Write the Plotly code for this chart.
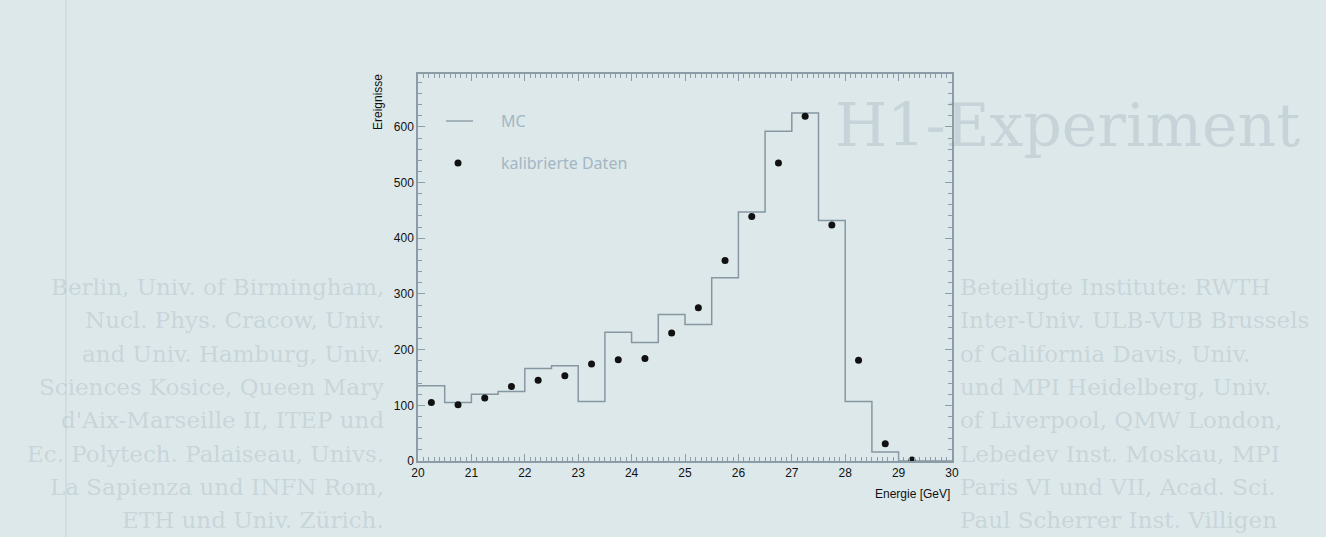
import plotly.graph_objects as go

# ---------------- data ----------------
bin_edges = [20.0, 20.5, 21.0, 21.5, 22.0, 22.5, 23.0, 23.5, 24.0, 24.5,
             25.0, 25.5, 26.0, 26.5, 27.0, 27.5, 28.0, 28.5, 29.0, 29.5, 30.0]
mc_counts = [135, 105, 120, 125, 166, 171, 107, 231, 213, 263,
             245, 329, 447, 592, 625, 432, 107, 16, 0, 0]

data_energy = [20.25, 20.75, 21.25, 21.75, 22.25, 22.75, 23.25, 23.75, 24.25, 24.75,
               25.25, 25.75, 26.25, 26.75, 27.25, 27.75, 28.25, 28.75, 29.25]
data_counts = [105, 101, 113, 134, 145, 153, 174, 182, 184, 230,
               275, 360, 439, 535, 619, 424, 181, 31, 2]

x_ticks = [20, 21, 22, 23, 24, 25, 26, 27, 28, 29, 30]
y_ticks = [0, 100, 200, 300, 400, 500, 600]

legend_labels = ["MC", "kalibrierte Daten"]
x_title = "Energie [GeV]"
y_title = "Ereignisse"

# faint text of the scanned page showing through the background
ghost_title = "H1-Experiment"
ghost_right = [
    "Beteiligte Institute: RWTH",
    "Inter-Univ. ULB-VUB Brussels",
    "of California Davis, Univ.",
    "und MPI Heidelberg, Univ.",
    "of Liverpool, QMW London,",
    "Lebedev Inst. Moskau, MPI",
    "Paris VI und VII, Acad. Sci.",
    "Paul Scherrer Inst. Villigen",
]
ghost_left = [
    "Berlin, Univ. of Birmingham,",
    "Nucl. Phys. Cracow, Univ.",
    "and Univ. Hamburg, Univ.",
    "Sciences Kosice, Queen Mary",
    "d'Aix-Marseille II, ITEP und",
    "Ec. Polytech. Palaiseau, Univs.",
    "La Sapienza und INFN Rom,",
    "ETH und Univ. Zürich.",
]

# ---------------- layout geometry ----------------
W, H = 1326, 537
L, R, T, B = 418, 952, 74, 461


def px(xp):
    return (xp - L) / (R - L)


def py(yp):
    return (B - yp) / (B - T)


BG = "#dde8ea"
AX = "#8b9ca6"
LINE = "#8797a1"
LEG_TXT = "#a2b7c3"
GHOST = "rgba(110,135,148,0.20)"

fig = go.Figure()

fig.add_trace(go.Scatter(
    x=bin_edges, y=mc_counts + [mc_counts[-1]],
    mode="lines", line=dict(shape="hv", color=LINE, width=1.5),
    name=legend_labels[0], showlegend=False,
))
fig.add_trace(go.Scatter(
    x=data_energy, y=data_counts, mode="markers",
    marker=dict(color="#111111", size=7),
    name=legend_labels[1], showlegend=False,
))

annotations = []
annotations.append(dict(
    text=ghost_title, xref="paper", yref="paper", x=px(1067), y=py(125),
    xanchor="center", yanchor="middle", showarrow=False,
    font=dict(family="DejaVu Serif, serif", size=60, color=GHOST),
))
GHOST_FONT = dict(family="DejaVu Serif, serif", size=23, color=GHOST)
for i, (lt, rt) in enumerate(zip(ghost_left, ghost_right)):
    yy = py(287 + 33.3 * i)
    annotations.append(dict(
        text=lt, xref="paper", yref="paper", x=px(386), y=yy,
        xanchor="right", yanchor="middle", showarrow=False, font=GHOST_FONT,
    ))
    annotations.append(dict(
        text=rt, xref="paper", yref="paper", x=px(958), y=yy,
        xanchor="left", yanchor="middle", showarrow=False, font=GHOST_FONT,
    ))

# legend (manual)
LEG_FONT = dict(family="Noto Sans, sans-serif", size=16, color=LEG_TXT)
annotations.append(dict(
    text=legend_labels[0], xref="paper", yref="paper", x=px(499), y=py(121),
    xanchor="left", yanchor="middle", showarrow=False, font=LEG_FONT,
))
annotations.append(dict(
    text=legend_labels[1], xref="paper", yref="paper", x=px(499), y=py(163),
    xanchor="left", yanchor="middle", showarrow=False, font=LEG_FONT,
))

annotations.append(dict(
    text=y_title, xref="paper", yref="paper", x=px(378), y=py(72),
    xanchor="center", yanchor="top", textangle=-90, showarrow=False,
    font=dict(family="Liberation Sans, Arial, sans-serif", size=12, color="#111111"),
))
annotations.append(dict(
    text=x_title, xref="paper", yref="paper", x=px(952), y=py(494),
    xanchor="right", yanchor="middle", showarrow=False,
    font=dict(family="Liberation Sans, Arial, sans-serif", size=12, color="#111111"),
))

shapes = [
    dict(type="line", xref="paper", yref="paper", x0=px(66), x1=px(66), y0=py(0), y1=py(537),
         line=dict(color="rgba(110,135,148,0.10)", width=2), layer="below"),
    # legend keys
    dict(type="line", xref="paper", yref="paper", x0=px(446), x1=px(473), y0=py(121), y1=py(121),
         line=dict(color=LINE, width=1.3)),
    dict(type="circle", xref="paper", yref="paper", x0=px(454.5), x1=px(461.5),
         y0=py(166.5), y1=py(159.5), fillcolor="#111111", line=dict(width=0)),
]

axis_common = dict(
    showgrid=False, zeroline=False, showline=True, linecolor=AX, linewidth=1.5,
    mirror="allticks", ticks="inside", ticklen=7, tickcolor=AX, tickwidth=1,
    tickfont=dict(family="Liberation Sans, Arial, sans-serif", size=12, color="#111111"),
)

fig.update_layout(
    width=W, height=H, autosize=False,
    margin=dict(l=L, r=W - R, t=T, b=H - B, pad=0),
    paper_bgcolor=BG, plot_bgcolor=BG,
    xaxis=dict(range=[20, 30], tickvals=x_ticks,
               minor=dict(dtick=0.1, tick0=20, ticks="inside", ticklen=4, tickcolor=AX, showgrid=False),
               **axis_common),
    yaxis=dict(range=[0, 695], tickvals=y_ticks,
               minor=dict(dtick=20, tick0=0, ticks="inside", ticklen=4, tickcolor=AX, showgrid=False),
               **axis_common),
    showlegend=False,
    annotations=annotations,
    shapes=shapes,
)

fig.write_html("out.html")
